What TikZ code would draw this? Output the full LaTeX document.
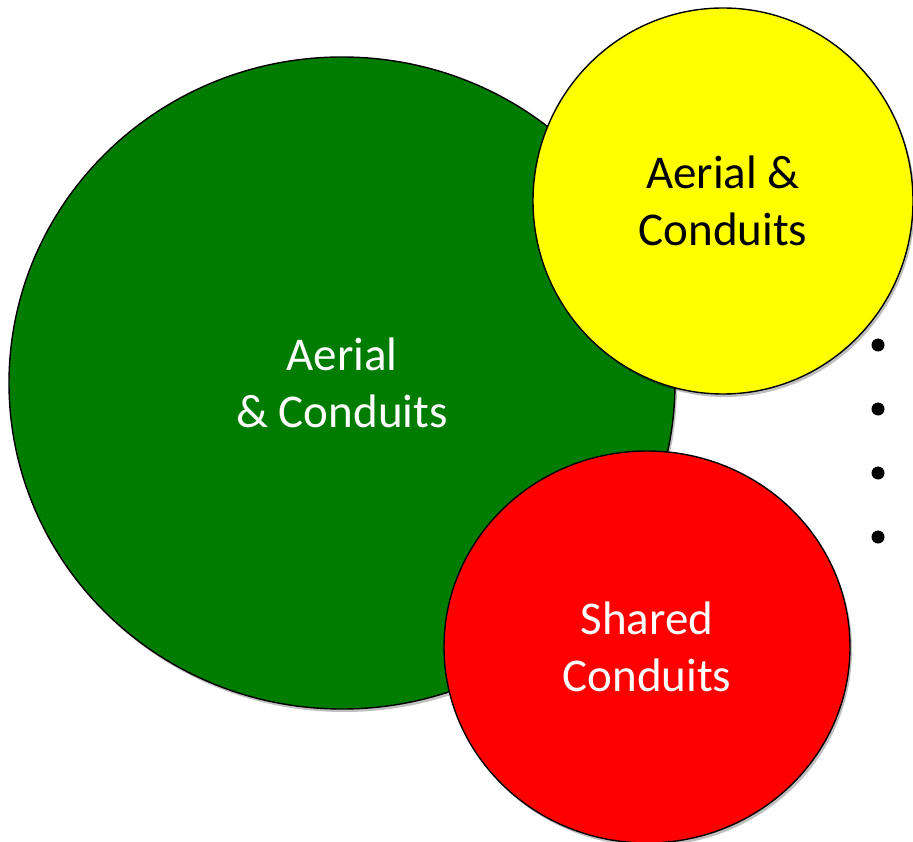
\documentclass[tikz,border=0pt]{standalone}
\usepackage{fontspec}
\setmainfont{Carlito}
\usetikzlibrary{shapes.geometric,shadows}
\definecolor{cgreen}{RGB}{0,124,0}
\definecolor{cyellow}{RGB}{255,255,0}
\definecolor{cred}{RGB}{255,0,0}
\begin{document}
\begin{tikzpicture}[x=1pt,y=-1pt,
  blob/.style={ellipse, draw=black, line width=1.4pt, inner sep=0pt, align=center,
    font=\fontsize{47}{57}\selectfont,
    drop shadow={shadow xshift=2pt, shadow yshift=-3pt, opacity=0.25, fill=black}},
  dotb/.style={circle, fill=black, minimum size=13pt, inner sep=0pt}]
\path[use as bounding box, clip] (0,0) rectangle (913,842);
\fill[white] (0,0) rectangle (913,842);
\node[blob, fill=cgreen, text=white, minimum width=666pt, minimum height=652pt] (g) at (342,383) {Aerial\\\& Conduits};
\node[blob, fill=cyellow, text=black, minimum width=380pt, minimum height=386pt] (y) at (723,201) {Aerial \&\\Conduits};
\node[blob, fill=cred, text=white, minimum width=406pt, minimum height=392pt] (r) at (647,647) {Shared\\Conduits};
\node[dotb] (b1) at (878,345) {};
\node[dotb] (b2) at (878,409) {};
\node[dotb] (b3) at (878,473) {};
\node[dotb] (b4) at (878,537) {};
\end{tikzpicture}
\end{document}
